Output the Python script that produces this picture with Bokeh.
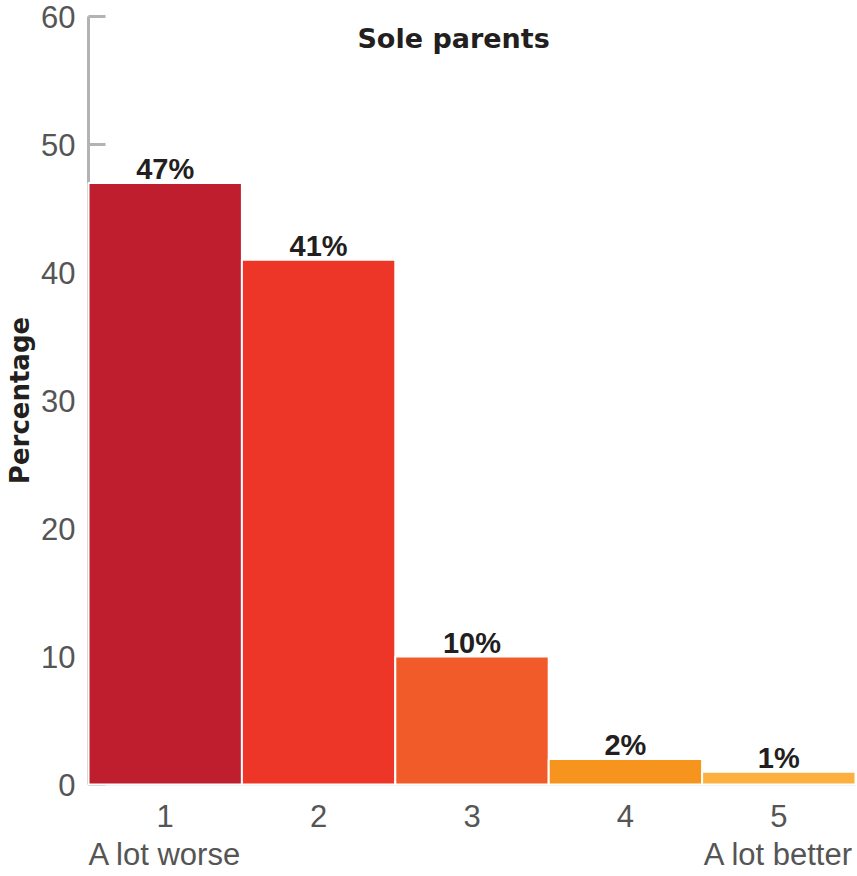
from bokeh.plotting import figure
from bokeh.models import ColumnDataSource, Label, FixedTicker
from bokeh.core.properties import value
from bokeh.embed import file_html
from bokeh.resources import INLINE

categories = [1, 2, 3, 4, 5]
percentages = [47, 41, 10, 2, 1]
bar_labels = ["47%", "41%", "10%", "2%", "1%"]
bar_colors = ["#BE1E2D", "#EE3628", "#F15A29", "#F7941D", "#FBB040"]
x_tick_labels = {1: "1\nA lot worse", 2: "2", 3: "3", 4: "4", 5: "5\nA lot better"}
y_ticks = [0, 10, 20, 30, 40, 50, 60]
title_text = "Sole parents"
y_label_text = "Percentage"

src = ColumnDataSource(dict(x=categories, top=percentages, lab=bar_labels, color=bar_colors))

p = figure(width=857, height=876, x_range=(0.5, 5.5), y_range=(0, 60),
           output_backend="svg", toolbar_location=None,
           min_border_left=88, min_border_right=2, min_border_top=16, min_border_bottom=92)
p.outline_line_color = None
p.xgrid.visible = False
p.ygrid.visible = False
p.background_fill_color = "white"

bars = p.vbar(x="x", top="top", width=1.0, bottom=0, source=src,
              fill_color="color", line_color="white", line_width=2)
bars.level = "overlay"

lbls = p.text(x="x", y="top", text="lab", source=src, text_align="center",
              text_baseline="alphabetic", y_offset=-14,
              text_font=value("Liberation Sans"), text_font_style="bold",
              text_font_size="29px", text_color="#231F20")
lbls.level = "overlay"

# y axis
ya = p.yaxis[0]
ya.ticker = FixedTicker(ticks=y_ticks)
ya.axis_line_color = "#B3B3B3"
ya.axis_line_width = 3
ya.major_tick_line_color = "#B3B3B3"
ya.major_tick_line_width = 3
ya.major_tick_in = 17
ya.major_tick_out = 0
ya.minor_tick_line_color = None
ya.major_label_text_font = "Liberation Sans"
ya.major_label_text_font_size = "31px"
ya.major_label_text_color = "#555555"
ya.major_label_standoff = 13
ya.axis_label = y_label_text
ya.axis_label_text_font = "DejaVu Sans"
ya.axis_label_text_font_style = "bold"
ya.axis_label_text_font_size = "26px"
ya.axis_label_text_color = "#231F20"
ya.axis_label_standoff = 3

# x axis
xa = p.xaxis[0]
xa.ticker = FixedTicker(ticks=categories)
xa.major_label_overrides = x_tick_labels
xa.axis_line_color = "#CCCCCC"
xa.axis_line_width = 2
xa.major_tick_line_color = None
xa.minor_tick_line_color = None
xa.major_label_text_font = "Liberation Sans"
xa.major_label_text_font_size = "31px"
xa.major_label_text_color = "#555555"
xa.major_label_text_line_height = 1.1
xa.major_label_standoff = 8

title = Label(x=2.88, y=58.3, text=title_text, text_align="center", text_baseline="middle",
              text_font="DejaVu Sans", text_font_style="bold", text_font_size="27px",
              text_color="#231F20")
p.add_layout(title)

open("out.html", "w").write(file_html(p, INLINE))
